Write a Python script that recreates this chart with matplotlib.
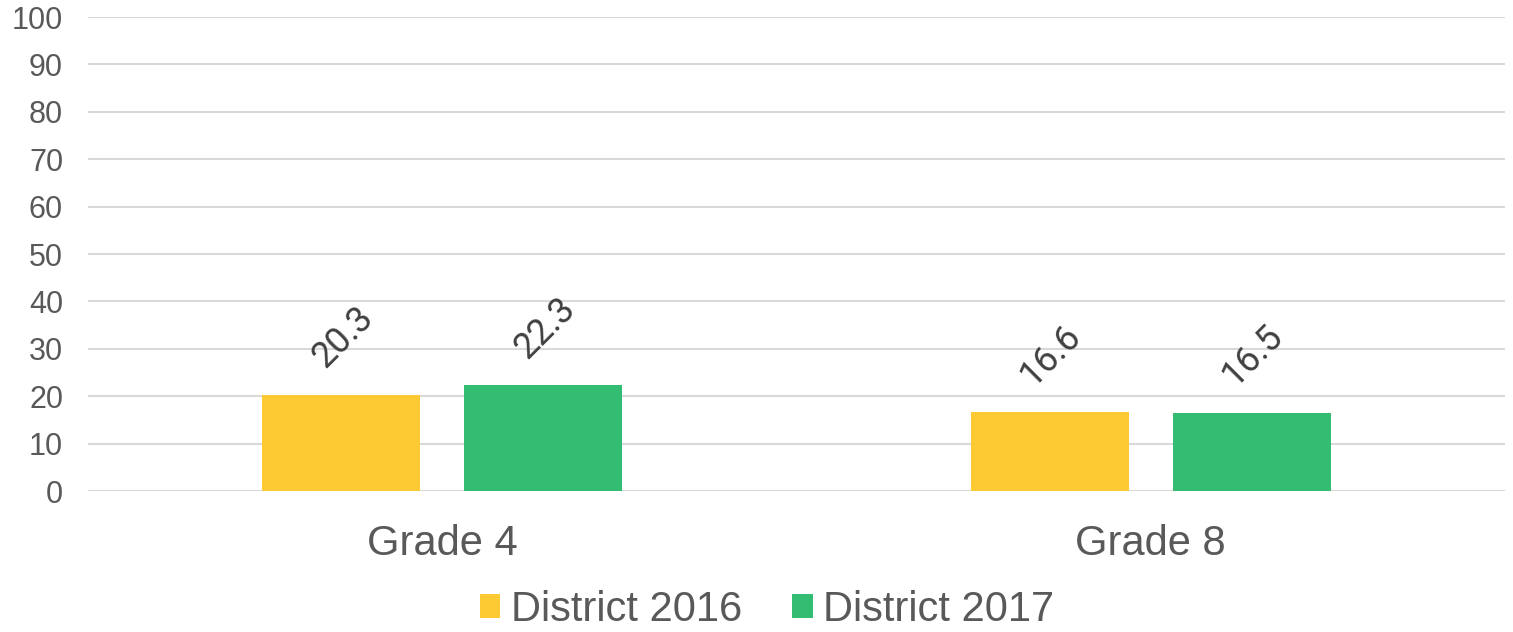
import matplotlib
matplotlib.use('Agg')
import matplotlib.pyplot as plt
import numpy as np
from matplotlib.patches import Patch

categories = ['Grade 4', 'Grade 8']
series_names = ['District 2016', 'District 2017']
district_2016 = [20.3, 16.6]
district_2017 = [22.3, 16.5]
y_ticks = [0, 10, 20, 30, 40, 50, 60, 70, 80, 90, 100]

colors = ['#FECA33', '#33BD72']
TEXT = '#595959'
LABEL = '#404040'
GRID = '#D9D9D9'

plt.rcParams['font.family'] = ['Liberation Sans', 'DejaVu Sans']

fig = plt.figure(figsize=(15.13, 6.32), dpi=100)
ax = fig.add_axes([0.0582, 0.2231, 0.9365, 0.75])

x = np.arange(len(categories))
width = 0.223
offset = 0.1426
for vals, off, col in zip([district_2016, district_2017], [-offset, offset], colors):
    bars = ax.bar(x + off, vals, width, color=col, zorder=3)
    for b, v in zip(bars, vals):
        ax.annotate(f'{v:.1f}', (b.get_x() + b.get_width() / 2, v),
                    xytext=(1, 14.5), textcoords='offset points',
                    ha='center', va='bottom', rotation=45,
                    fontsize=26, color=LABEL, family=['Roboto', 'DejaVu Sans'])

ax.set_xlim(-0.5, 1.5)
ax.set_ylim(0, 100)
ax.set_yticks(y_ticks)
ax.set_xticks(x)
ax.set_xticklabels(categories, fontsize=30, color=TEXT)
ax.tick_params(axis='y', labelsize=22, labelcolor=TEXT, length=0, pad=18)
ax.tick_params(axis='x', length=0, pad=24)
ax.yaxis.grid(True, color=GRID, linewidth=1.5, zorder=0)
for s in ax.spines.values():
    s.set_visible(False)

handles = [Patch(facecolor=c, edgecolor='none') for c in colors]
fig.legend(handles, series_names, loc='center', bbox_to_anchor=(0.507, 0.035),
           ncol=2, frameon=False, fontsize=30, labelcolor=TEXT,
           handlelength=0.5, handleheight=0.5, handletextpad=0.25,
           columnspacing=1.2)

fig.savefig('out.png', dpi=100)
